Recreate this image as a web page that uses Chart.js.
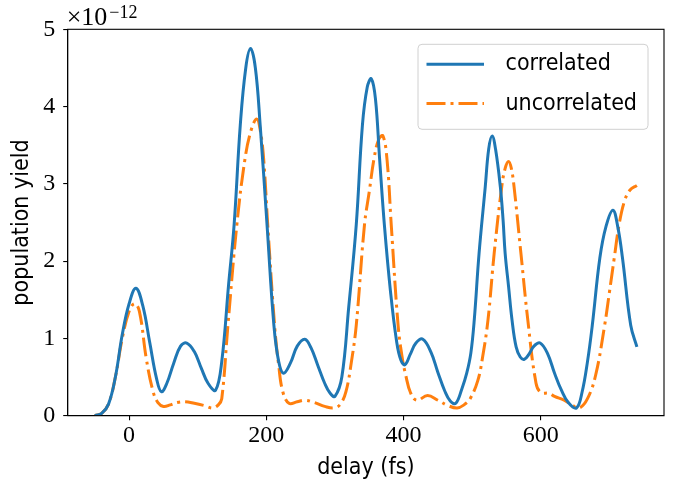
<!DOCTYPE html>
<html>
<head>
<meta charset="utf-8">
<script src="https://cdn.jsdelivr.net/npm/chart.js@4.4.1/dist/chart.umd.min.js"></script>
<style>
  html, body { margin: 0; padding: 0; background: #fff; }
  canvas { display: block; }
</style>
</head>
<body>
<canvas id="yieldChart" width="676" height="487"></canvas>
<script>
// population yield, in units of 1e-12
const corrDelay = [-50, -40, -30, -20, -10, 0, 10, 20, 30, 40, 47, 55, 65, 75, 84, 95, 105, 115, 126,
    135, 145, 153, 162, 170, 177, 184, 191, 201, 211, 218, 225, 235, 245, 256, 265, 275, 285, 293, 300,
    310, 320, 331, 340, 347, 353, 359, 365, 372, 381, 390, 396, 402, 410, 418, 428, 440, 450, 460, 468, 476,
    485, 492, 498, 503, 510, 519, 524, 529, 534, 541, 545, 548, 553, 558, 564, 570, 576, 583, 590, 599, 610, 620, 630, 640, 652,
    660, 668, 675, 686, 695, 705, 712, 719, 731, 740];
const corrYield = [0.00, 0.03, 0.15, 0.50, 1.05, 1.45, 1.65, 1.42, 0.95, 0.48, 0.31, 0.42, 0.68, 0.90, 0.94, 0.83, 0.62, 0.42, 0.33,
    0.70, 1.70, 2.47, 3.76, 4.50, 4.75, 4.50, 3.76, 2.47, 1.17, 0.70, 0.55, 0.68, 0.90, 0.99, 0.88, 0.65, 0.42, 0.29, 0.25,
    0.50, 1.40, 2.47, 3.76, 4.25, 4.36, 4.10, 3.33, 2.47, 1.60, 0.95, 0.72, 0.66, 0.80, 0.94, 0.99, 0.82, 0.56, 0.32, 0.19, 0.16,
    0.35, 0.55, 0.81, 1.24, 2.10, 2.96, 3.45, 3.62, 3.45, 2.96, 2.53, 2.10, 1.67, 1.24, 0.89, 0.76, 0.73, 0.80, 0.90, 0.94, 0.80, 0.55, 0.33, 0.17, 0.10,
    0.30, 0.70, 1.17, 2.04, 2.45, 2.66, 2.45, 2.04, 1.17, 0.89];

const uncDelay = [-50, -40, -30, -20, -10, 0, 8, 15, 25, 35, 42, 50, 60, 70, 81, 95, 110, 122, 130,
    135, 144, 157, 169, 178, 186, 191, 196, 202, 212, 218, 224, 233, 245, 256, 270, 285, 299,
    308, 316, 324, 331, 343, 350, 357, 364, 370, 376, 382, 392, 398, 403, 410, 419, 435, 450, 465, 478,
    488, 497, 508, 515, 523, 532, 543, 548, 553, 557, 561, 571, 581, 593, 600, 612, 620, 634, 645, 656,
    668, 680, 693, 700, 707, 714, 722, 730, 740];
const uncYield = [0.00, 0.03, 0.15, 0.50, 1.00, 1.35, 1.45, 1.35, 0.74, 0.31, 0.17, 0.12, 0.14, 0.17, 0.18, 0.16, 0.13, 0.10, 0.14,
    0.22, 1.17, 2.47, 3.33, 3.70, 3.84, 3.70, 3.33, 2.47, 1.17, 0.65, 0.31, 0.16, 0.18, 0.20, 0.17, 0.12, 0.10,
    0.15, 0.31, 0.70, 1.17, 2.47, 2.90, 3.33, 3.58, 3.62, 3.30, 2.47, 1.17, 0.75, 0.53, 0.30, 0.20, 0.26, 0.20, 0.13, 0.10,
    0.14, 0.22, 0.45, 0.75, 1.24, 2.10, 2.96, 3.20, 3.29, 3.20, 2.96, 2.10, 1.24, 0.42, 0.30, 0.29, 0.25, 0.20, 0.14, 0.10,
    0.22, 0.53, 1.17, 1.60, 2.04, 2.47, 2.78, 2.92, 2.98];

const seriesNames = ['correlated', 'uncorrelated'];
const xTicks = [0, 200, 400, 600];
const yTicks = [0, 1, 2, 3, 4, 5];
const yExponent = '\u221212';

const BLUE = '#1f77b4', ORANGE = '#ff7f0e';
const SERIF = "'Liberation Serif', 'DejaVu Serif', serif";
const SANS = "'DejaVu Sans Condensed', 'DejaVu Sans', sans-serif";

// matplotlib-like 5% margins on x
const allX = corrDelay.concat(uncDelay);
const xLo = Math.min(...allX), xHi = Math.max(...allX);
const xPad = (xHi - xLo) * 0.05;

function toPoints(xs, ys) {
    return xs.map((x, i) => ({ x: x, y: ys[i] }));
}

// frame on all four sides + the x10^-12 offset label
const framePlugin = {
    id: 'frame',
    afterDatasetsDraw(chart) {
        const a = chart.chartArea, ctx = chart.ctx;
        ctx.save();
        ctx.strokeStyle = '#000';
        ctx.lineWidth = 1.1;
        ctx.strokeRect(a.left, a.top, a.right - a.left, a.bottom - a.top);
        ctx.fillStyle = '#000';
        ctx.textBaseline = 'alphabetic';
        ctx.textAlign = 'left';
        ctx.font = '26px ' + SERIF;
        ctx.fillText('\u00d710', a.left - 1, a.top - 4);
        const w = ctx.measureText('\u00d710').width;
        ctx.font = '18px ' + SERIF;
        ctx.fillText(yExponent, a.left + w + 1, a.top - 11);
        ctx.restore();
    }
};

// legend box in the upper right corner
const legendPlugin = {
    id: 'boxLegend',
    afterDraw(chart) {
        const a = chart.chartArea, ctx = chart.ctx;
        const right = a.right - 16, top = a.top + 15;
        const w = 230, h = 85;
        const left = right - w;
        ctx.save();
        ctx.beginPath();
        ctx.roundRect(left, top, w, h, 4);
        ctx.fillStyle = 'rgba(255,255,255,0.8)';
        ctx.fill();
        ctx.strokeStyle = '#d0d0d0';
        ctx.lineWidth = 1;
        ctx.stroke();
        chart.data.datasets.forEach((ds, i) => {
            const y = top + 20 + i * 39.3;
            ctx.beginPath();
            ctx.setLineDash(ds.borderDash || []);
            ctx.strokeStyle = ds.borderColor;
            ctx.lineWidth = ds.borderWidth;
            ctx.moveTo(left + 8.5, y);
            ctx.lineTo(left + 66, y);
            ctx.stroke();
            ctx.setLineDash([]);
            ctx.fillStyle = '#000';
            ctx.font = '23px ' + SANS;
            ctx.textBaseline = 'middle';
            ctx.textAlign = 'left';
            ctx.fillText(ds.label, left + 87.5, y);
        });
        ctx.restore();
    }
};

new Chart(document.getElementById('yieldChart'), {
    type: 'line',
    data: {
        datasets: [
            {
                label: seriesNames[0],
                data: toPoints(corrDelay, corrYield),
                borderColor: BLUE,
                borderWidth: 3,
                pointRadius: 0,
                fill: false,
                tension: 0.4
            },
            {
                label: seriesNames[1],
                data: toPoints(uncDelay, uncYield),
                borderColor: ORANGE,
                borderWidth: 3,
                borderDash: [19, 5, 3, 5],
                borderCapStyle: 'butt',
                pointRadius: 0,
                fill: false,
                tension: 0.4
            }
        ]
    },
    options: {
        responsive: false,
        animation: false,
        layout: { padding: { top: 29.3, right: 12, left: 0, bottom: 0 } },
        plugins: {
            legend: { display: false },
            tooltip: { enabled: false }
        },
        scales: {
            x: {
                type: 'linear',
                min: xLo - xPad,
                max: xHi + xPad,
                afterBuildTicks: s => { s.ticks = xTicks.map(v => ({ value: v })); },
                afterFit: s => { s.height = 71.3; },
                grid: { display: true, drawOnChartArea: false, drawTicks: true, tickLength: 4.5, color: '#000', lineWidth: 1.1 },
                border: { display: true, color: '#000', width: 1.1 },
                ticks: { color: '#000', font: { family: SERIF, size: 24 }, padding: 1.5, maxRotation: 0 },
                title: { display: true, text: 'delay (fs)', color: '#000', font: { family: SANS, size: 23 }, padding: { top: 0, bottom: 5 } }
            },
            y: {
                min: 0,
                max: 5,
                afterBuildTicks: s => { s.ticks = yTicks.map(v => ({ value: v })); },
                afterFit: s => { s.width = 67.7; },
                grid: { display: true, drawOnChartArea: false, drawTicks: true, tickLength: 4.5, color: '#000', lineWidth: 1.1 },
                border: { display: true, color: '#000', width: 1.1 },
                ticks: { color: '#000', font: { family: SERIF, size: 24 }, padding: 8 },
                title: { display: true, text: 'population yield', color: '#000', font: { family: SANS, size: 23 }, padding: { top: 8, bottom: 0 } }
            }
        }
    },
    plugins: [framePlugin, legendPlugin]
});
</script>
</body>
</html>
